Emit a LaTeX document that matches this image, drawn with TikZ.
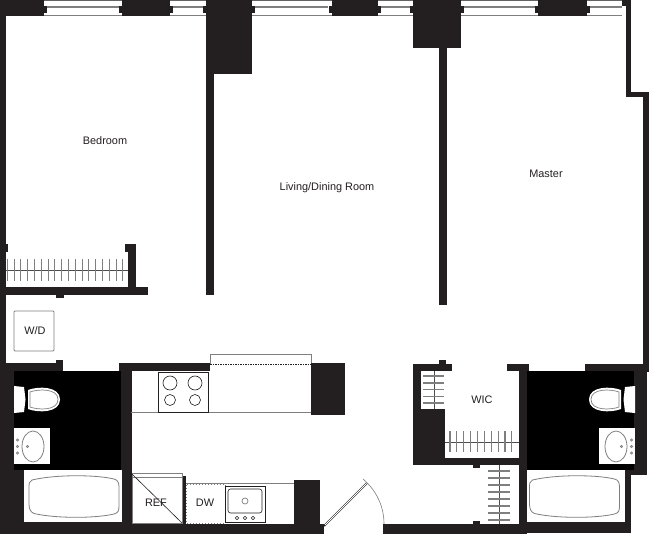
\documentclass[tikz,border=0pt]{standalone}
\usepackage{fontspec}
\setmainfont{Liberation Sans}
\definecolor{walldark}{HTML}{231F20}
\definecolor{linegray}{HTML}{7F7F7F}
\tikzset{
  wall/.style={fill=walldark},
  bathfloor/.style={fill=black},
  fixture/.style={draw=linegray, fill=white, line width=0.8pt},
  rail/.style={draw=linegray, line width=1.1pt},
  rod/.style={draw=walldark!80, line width=0.6pt},
  roomlabel/.style={font=\fontsize{10.9}{12}\selectfont, text=walldark, inner sep=0pt}
}
\begin{document}
\begin{tikzpicture}[x=1pt, y=-1pt]
    \useasboundingbox (0, 0) rectangle (650, 534);

    % window lines
    \draw[draw=walldark!70, line width=0.7pt] (44, 0.4) -- (622, 0.4);
    \draw[draw=linegray, line width=1pt] (44, 15.5) -- (622, 15.5);
    \foreach \xa/\xb in {47/120, 173/203, 255/328, 381/410, 464/536, 590/622}
        \draw[draw=linegray, line width=2pt] (\xa, 7.5) -- (\xb, 7.5);

    % piers on the top wall
    \foreach \xa/\xb in {0/44, 122/170, 206/252, 332/378, 413/461, 538/587} {
        \fill[wall] (\xa, 0) rectangle (\xb, 16);
        \fill[wall] (\xa-3, 6) rectangle (\xb+3, 13);
    }
    \fill[white] (-4, 6) rectangle (0, 13);
    \fill[wall] (206, 0) rectangle (252, 74);
    \fill[wall] (206, 74) rectangle (214, 295);
    \fill[wall] (413, 0) rectangle (461, 48);
    \fill[wall] (439, 48) rectangle (447, 305);

    % outer walls
    \fill[wall] (0, 0) rectangle (6, 534);
    \fill[wall] (622, 0) rectangle (631, 6);
    \fill[wall] (625.5, 6) rectangle (631, 97);
    \fill[wall] (625.5, 92) rectangle (649, 97.5);
    \fill[wall] (643, 92) rectangle (649, 372);

    % bedroom closet
    \fill[wall] (0, 244) rectangle (8, 252);
    \fill[wall] (125, 244) rectangle (136, 252);
    \fill[wall] (128, 252) rectangle (136, 290);
    \fill[wall] (0, 287) rectangle (148, 295);
    \fill[wall] (56, 295) rectangle (63.5, 298);
    \draw[rod] (6, 270) -- (128, 270);
    \foreach \i in {0, ..., 17}
        \draw[rail] (7.3+\i*6.8, 259) -- (7.3+\i*6.8, 281);

    % laundry
    \draw[fixture, rounded corners=1pt] (14, 311) rectangle (54, 351);
    \node[roomlabel] (washer) at (35, 331) {W/D};
    \fill[wall] (0, 363) rectangle (63, 371);
    \fill[wall] (56, 360) rectangle (63, 363);

    % left bath block
    \fill[wall] (0, 371) rectangle (14, 534);
    \fill[wall] (14, 469) rectangle (131, 534);
    \fill[wall] (119, 363) rectangle (131.5, 534);
    \fill[wall] (119, 363) rectangle (210, 371);
    \fill[bathfloor] (14, 371) rectangle (121, 470);
    \fill[white] (24, 470) rectangle (121.5, 522);

    % right bath block
    \fill[wall] (519, 364) rectangle (527, 534);
    \fill[wall] (507, 364) rectangle (529, 371);
    \fill[wall] (585, 364) rectangle (649, 371);
    \fill[wall] (634, 371) rectangle (646.5, 475);
    \fill[wall] (625, 470) rectangle (631, 533);
    \fill[wall] (625, 470) rectangle (646.5, 475);
    \fill[wall] (519, 522) rectangle (631, 533);
    \fill[bathfloor] (527, 371) rectangle (634, 470);
    \fill[white] (527, 470) rectangle (625, 522);

    % tubs
    \foreach \dx in {0, 500.5}
        \draw[fixture, shift={(\dx pt, 0pt)}] (32, 480) .. controls (55, 474.5) and (95, 474.5) .. (114, 479)
            .. controls (118, 480) and (119, 483) .. (119, 487) -- (119, 506)
            .. controls (119, 511) and (118, 513) .. (114, 514)
            .. controls (95, 518.5) and (55, 518.5) .. (34, 513.5)
            .. controls (30, 512) and (29, 508) .. (29, 504) -- (29, 488)
            .. controls (29, 484) and (29, 481) .. (32, 480) -- cycle;

    % toilets and basins, the right one is mirrored
    \foreach \dx/\sx in {0/1, 649/-1} {
        \begin{scope}[xshift=\dx pt, xscale=\sx]
            \fill[white] (14, 386) -- (24, 387) -- (25.5, 399.5) -- (24, 412) -- (14, 413) -- cycle;
            \fill[white] (28, 390) .. controls (38, 386) and (60, 386) .. (60, 399.5)
                .. controls (60, 413) and (38, 413) .. (28, 409) -- cycle;
            \draw[draw=linegray, line width=0.7pt] (30, 392) .. controls (38, 389) and (58, 388) .. (58, 399.5)
                .. controls (58, 411) and (38, 410) .. (30, 407) -- cycle;
            \fill[white] (14, 428) rectangle (50, 464);
            \draw[draw=linegray, line width=0.8pt] (33, 446.5) ellipse[x radius=11, y radius=15.5];
            \foreach \y in {440, 446.5, 453}
                \draw[draw=linegray, line width=0.7pt] (17.5, \y) circle[radius=1.2];
            \draw[draw=linegray, line width=0.7pt] (27.5, 446.5) circle[radius=1.2];
        \end{scope}
    }

    % kitchen
    \draw[draw=linegray, line width=0.7pt] (210, 364) -- (210, 354) -- (311, 354) -- (311, 364);
    \draw[draw=walldark, line width=0.7pt, dash pattern=on 1.5pt off 1pt] (210, 364.5) -- (311, 364.5);
    \fill[wall] (311, 363) rectangle (345, 415);
    \draw[draw=linegray, line width=0.8pt] (131, 412) -- (311, 412);
    \draw[draw=walldark, line width=0.7pt] (158, 372) rectangle (208, 412);
    \foreach \x in {170, 195} {
        \draw[draw=walldark, line width=0.6pt] (\x, 383) circle[radius=7];
        \draw[draw=walldark, line width=0.6pt] (\x, 400) circle[radius=5.5];
    }
    \fill[wall] (131, 524) rectangle (324, 534);
    \fill[wall] (294, 480) rectangle (320, 524);

    % refrigerator
    \draw[draw=linegray, line width=0.7pt] (132, 473) rectangle (182, 477);
    \draw[draw=linegray, line width=1pt] (132, 477) rectangle (182, 523);
    \draw[draw=walldark, line width=0.6pt] (132, 474) -- (182, 523);
    \fill[wall] (183, 476) rectangle (186, 524);
    \node[roomlabel] (fridge) at (156, 503) {REF};

    % dishwasher and sink
    \draw[draw=linegray, line width=0.8pt] (186, 483) -- (294, 483);
    \draw[draw=linegray, line width=1pt, dotted] (186.5, 484.5) rectangle (225, 523);
    \node[roomlabel] (washing) at (205, 503) {DW};
    \draw[draw=walldark, line width=0.6pt] (225, 486) rectangle (265, 522);
    \draw[draw=walldark, line width=0.6pt, rounded corners=2.5pt] (228, 489) rectangle (262, 513);
    \draw[draw=linegray, line width=0.7pt] (245, 501) circle[radius=3];
    \foreach \x in {237, 245, 253}
        \draw[draw=walldark, line width=0.6pt] (\x, 518) circle[radius=1.8];

    % entry door
    \draw[draw=walldark, line width=2pt] (324, 526) -- (367, 483);
    \draw[draw=white, line width=0.8pt] (325, 525) -- (366.5, 483.5);
    \draw[draw=linegray, line width=0.6pt] (384, 524) .. controls (384, 507) and (377, 491) .. (363, 479);
    \fill[wall] (383, 524) rectangle (519, 534);
    \fill[wall] (473, 521) rectangle (480, 524);

    % walk-in closet
    \fill[wall] (413, 364) rectangle (421, 465);
    \fill[wall] (413, 364) rectangle (452, 371);
    \fill[wall] (439, 360) rectangle (446, 364);
    \fill[wall] (413, 409) rectangle (445, 465);
    \fill[wall] (413, 458) rectangle (519, 465);
    \fill[wall] (473, 465) rectangle (480, 468);
    \draw[rod] (434, 371) -- (434, 409);
    \foreach \y in {376, 383, 389.5, 396.5, 403}
        \draw[rail] (423, \y) -- (444, \y);
    \draw[rod] (445, 442) -- (519, 442);
    \foreach \i in {0, ..., 9}
        \draw[rail] (450+\i*6.88, 431) -- (450+\i*6.88, 452);
    \draw[rod] (499, 465) -- (499, 524);
    \foreach \i in {0, ..., 7}
        \draw[rail] (488, 471+\i*7) -- (510, 471+\i*7);

    % room names
    \node[roomlabel] (bedroom) at (105, 141) {Bedroom};
    \node[roomlabel] (living) at (327, 188) {Living/Dining Room};
    \node[roomlabel] (master) at (546, 174) {Master};
    \node[roomlabel] (closet) at (482, 400) {WIC};
\end{tikzpicture}
\end{document}
